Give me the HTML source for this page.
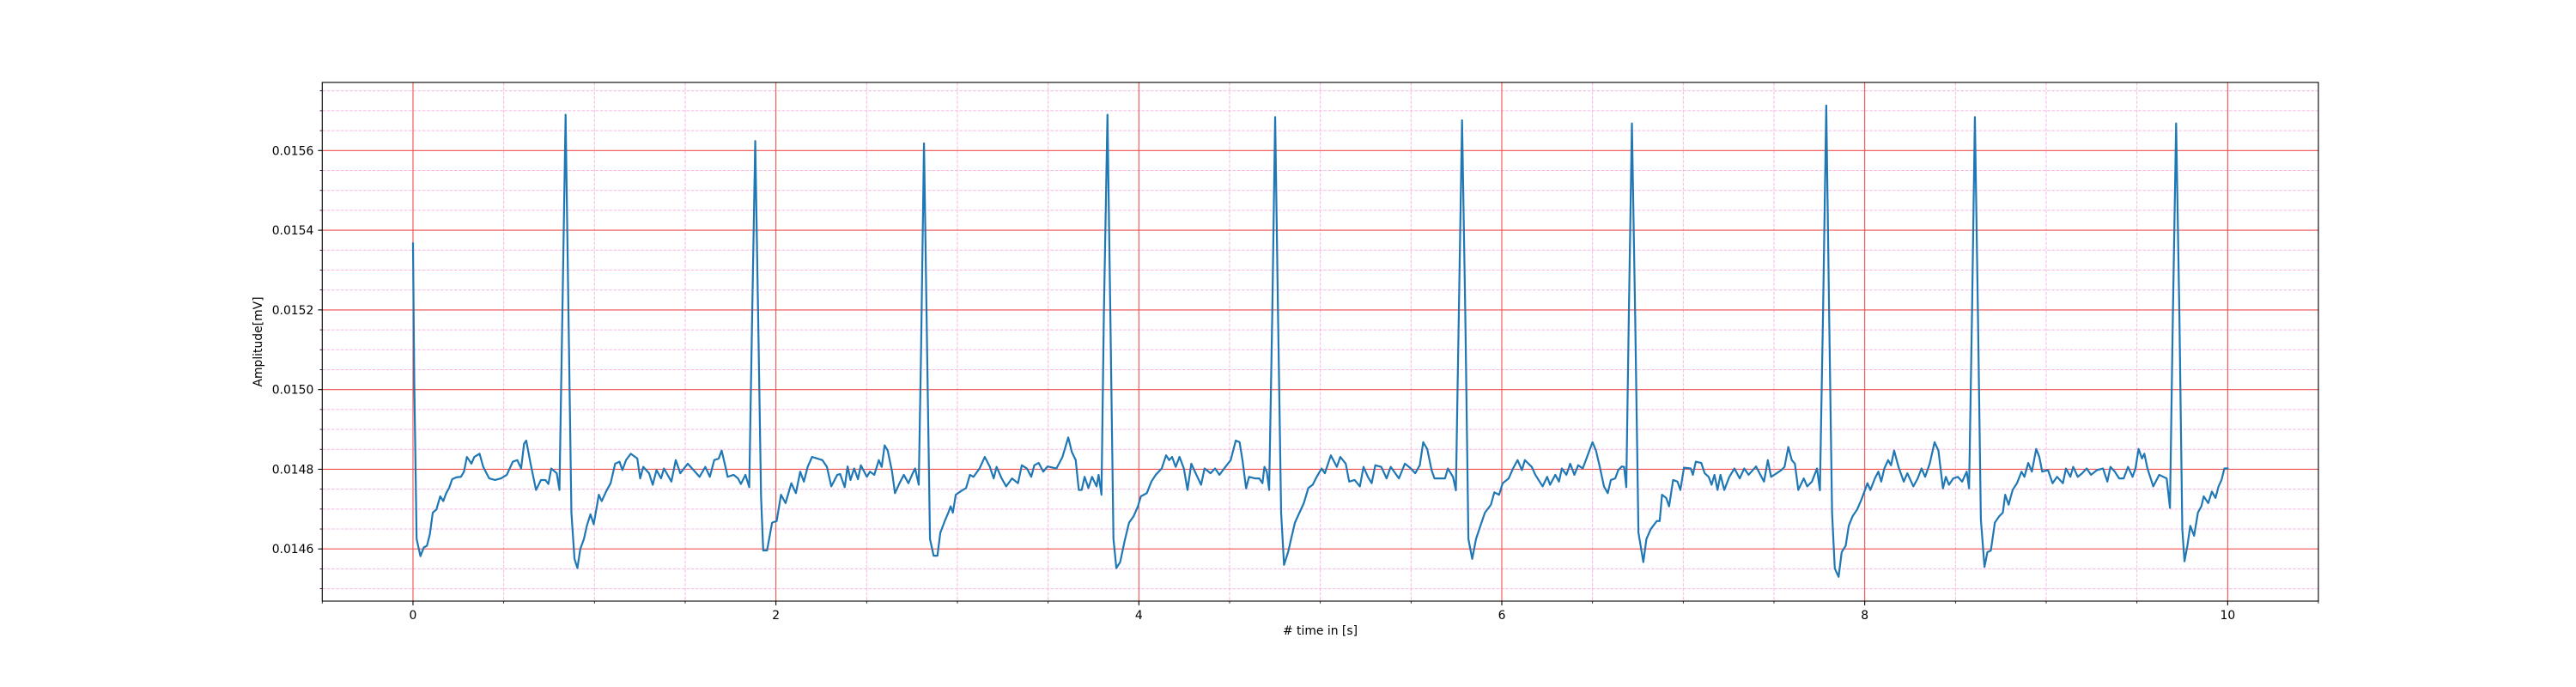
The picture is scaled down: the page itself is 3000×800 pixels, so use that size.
<!DOCTYPE html>
<html><head><meta charset="utf-8"><style>
html,body{margin:0;padding:0;background:#fff;}
svg{display:block;}
text{font-family:"DejaVu Sans","Liberation Sans",sans-serif;font-size:13.9px;fill:#000;}
</style></head><body>
<svg id="chart" width="3000" height="800" xmlns="http://www.w3.org/2000/svg">
<rect x="0" y="0" width="3000" height="800" fill="#fff"/>
<g id="grid"></g>
<g id="series"></g>
<g id="axes"></g>
<text x="1537.5" y="739" text-anchor="middle"># time in [s]</text>
<text transform="translate(305,398) rotate(-90)" text-anchor="middle">Amplitude[mV]</text>
</svg>
<script>
const xTicks = [0, 2, 4, 6, 8, 10];
const xTickLabels = ["0", "2", "4", "6", "8", "10"];
const yTicks = [0.0146, 0.0148, 0.0150, 0.0152, 0.0154, 0.0156];
const yTickLabels = ["0.0146", "0.0148", "0.0150", "0.0152", "0.0154", "0.0156"];
const time = [0,0.007,0.02,0.041,0.06,0.077,0.093,0.109,0.129,0.15,0.167,0.183,0.199,0.216,0.24,0.264,0.281,0.297,0.322,0.338,0.367,0.387,0.42,0.452,0.485,0.517,0.55,0.575,0.596,0.612,0.624,0.648,0.678,0.705,0.73,0.746,0.762,0.792,0.807,0.823,0.841,0.857,0.873,0.89,0.906,0.922,0.942,0.958,0.978,0.996,1.024,1.04,1.064,1.089,1.114,1.138,1.154,1.174,1.2,1.236,1.252,1.269,1.301,1.321,1.342,1.367,1.383,1.424,1.448,1.473,1.514,1.546,1.579,1.611,1.636,1.66,1.685,1.701,1.718,1.734,1.767,1.791,1.807,1.832,1.853,1.869,1.886,1.902,1.918,1.93,1.951,1.979,2.004,2.028,2.053,2.085,2.11,2.134,2.154,2.175,2.199,2.256,2.281,2.305,2.338,2.354,2.379,2.395,2.411,2.431,2.452,2.468,2.501,2.518,2.542,2.567,2.583,2.599,2.616,2.64,2.656,2.681,2.705,2.73,2.754,2.767,2.787,2.8,2.816,2.833,2.849,2.869,2.89,2.906,2.934,2.95,2.963,2.975,2.991,3.016,3.048,3.069,3.089,3.122,3.151,3.179,3.2,3.216,3.244,3.269,3.301,3.334,3.355,3.383,3.407,3.424,3.448,3.473,3.497,3.546,3.579,3.611,3.631,3.652,3.669,3.685,3.701,3.722,3.742,3.767,3.778,3.794,3.807,3.827,3.843,3.86,3.876,3.897,3.922,3.946,3.971,3.995,4.011,4.044,4.069,4.093,4.126,4.15,4.167,4.183,4.203,4.224,4.248,4.268,4.289,4.313,4.343,4.362,4.395,4.42,4.444,4.477,4.506,4.534,4.555,4.571,4.591,4.607,4.64,4.664,4.681,4.692,4.705,4.718,4.735,4.751,4.767,4.784,4.8,4.823,4.839,4.86,4.885,4.909,4.934,4.958,4.98,5.007,5.025,5.058,5.091,5.11,5.14,5.159,5.189,5.218,5.238,5.262,5.283,5.303,5.336,5.365,5.388,5.433,5.466,5.499,5.523,5.548,5.567,5.589,5.613,5.629,5.654,5.687,5.703,5.731,5.747,5.763,5.781,5.799,5.816,5.837,5.858,5.882,5.907,5.94,5.959,5.985,6.005,6.038,6.062,6.087,6.111,6.127,6.165,6.185,6.225,6.25,6.266,6.295,6.315,6.331,6.356,6.377,6.4,6.421,6.446,6.47,6.5,6.519,6.54,6.563,6.584,6.601,6.625,6.642,6.661,6.674,6.686,6.7,6.717,6.735,6.753,6.78,6.797,6.821,6.854,6.87,6.883,6.906,6.922,6.944,6.968,6.984,7.004,7.041,7.053,7.069,7.099,7.118,7.14,7.156,7.172,7.189,7.205,7.226,7.254,7.282,7.311,7.336,7.36,7.401,7.425,7.445,7.466,7.484,7.515,7.541,7.558,7.579,7.598,7.615,7.634,7.664,7.683,7.709,7.737,7.753,7.77,7.788,7.804,7.82,7.835,7.856,7.873,7.895,7.912,7.933,7.958,7.982,8.015,8.031,8.056,8.075,8.091,8.108,8.129,8.145,8.162,8.186,8.215,8.235,8.268,8.292,8.313,8.333,8.358,8.385,8.406,8.431,8.447,8.464,8.488,8.513,8.537,8.562,8.575,8.591,8.607,8.624,8.64,8.66,8.676,8.695,8.717,8.741,8.761,8.774,8.793,8.815,8.839,8.864,8.88,8.901,8.921,8.945,8.962,8.978,9.01,9.035,9.06,9.092,9.109,9.133,9.149,9.174,9.198,9.223,9.247,9.28,9.313,9.337,9.354,9.378,9.402,9.427,9.451,9.476,9.492,9.509,9.528,9.541,9.558,9.59,9.623,9.664,9.682,9.698,9.716,9.734,9.75,9.762,9.778,9.794,9.815,9.836,9.855,9.868,9.893,9.913,9.933,9.95,9.966,9.982,10.0];
const amp = [0.015367,0.01502,0.014625,0.014582,0.014604,0.014608,0.014637,0.014691,0.014699,0.014732,0.01472,0.01474,0.014753,0.014775,0.01478,0.014781,0.014794,0.014831,0.014814,0.014831,0.014839,0.014806,0.014777,0.014773,0.014777,0.014786,0.014819,0.014823,0.014802,0.014864,0.014872,0.014814,0.014748,0.014773,0.014773,0.014763,0.014802,0.01479,0.014748,0.015185,0.01569,0.015185,0.014691,0.014575,0.014552,0.0146,0.014625,0.014658,0.014687,0.014662,0.014736,0.01472,0.014744,0.014765,0.014814,0.014819,0.014798,0.014823,0.014839,0.014827,0.014777,0.014806,0.01479,0.014761,0.014798,0.014777,0.014802,0.014769,0.014823,0.01479,0.014814,0.014798,0.014781,0.014806,0.014781,0.014823,0.014827,0.014847,0.014814,0.014781,0.014786,0.014777,0.014763,0.014786,0.014755,0.015185,0.015624,0.015185,0.014732,0.014596,0.014596,0.014666,0.01467,0.014736,0.014715,0.014765,0.01474,0.014794,0.014769,0.014806,0.014831,0.014823,0.014806,0.014757,0.014786,0.014788,0.014755,0.014807,0.014773,0.014802,0.014775,0.01481,0.014781,0.014794,0.014786,0.014823,0.014806,0.01486,0.014847,0.014794,0.01474,0.014765,0.014786,0.014765,0.01479,0.014802,0.014761,0.015103,0.015618,0.015103,0.014625,0.014583,0.014583,0.014641,0.014674,0.014691,0.014707,0.014691,0.014736,0.014744,0.014753,0.014786,0.014781,0.014802,0.014831,0.014806,0.014777,0.014806,0.014777,0.014757,0.014777,0.014765,0.01481,0.014802,0.014781,0.01481,0.014816,0.014794,0.014807,0.014802,0.014831,0.01488,0.014843,0.014823,0.014748,0.014748,0.014781,0.014753,0.014781,0.014757,0.014786,0.014736,0.015185,0.01569,0.015185,0.014625,0.014552,0.014567,0.014621,0.014666,0.014682,0.014707,0.014732,0.01474,0.014769,0.014786,0.014802,0.014835,0.014823,0.014831,0.014806,0.014831,0.014802,0.014748,0.014814,0.01479,0.014761,0.014802,0.01479,0.014802,0.014786,0.014806,0.014823,0.014872,0.014868,0.014823,0.014752,0.014781,0.014777,0.014777,0.014765,0.014806,0.014794,0.014748,0.015185,0.015684,0.015185,0.014691,0.01456,0.014593,0.014625,0.014666,0.014691,0.014715,0.014753,0.014761,0.014781,0.014802,0.01479,0.014835,0.014806,0.014831,0.014814,0.014769,0.014773,0.014757,0.014806,0.014781,0.014765,0.01481,0.014806,0.014777,0.014806,0.014777,0.014814,0.014802,0.01479,0.01481,0.014868,0.014851,0.014798,0.014777,0.014777,0.014777,0.014802,0.014781,0.014747,0.015185,0.015676,0.015185,0.014625,0.014575,0.014625,0.014658,0.014691,0.014711,0.014742,0.014736,0.014765,0.014777,0.014802,0.014823,0.014798,0.014823,0.014806,0.014786,0.014757,0.014781,0.014761,0.014786,0.014769,0.014802,0.014786,0.014814,0.014786,0.01481,0.014802,0.014831,0.014868,0.014847,0.014806,0.014757,0.01474,0.014773,0.014777,0.014798,0.014807,0.014806,0.014755,0.015185,0.015668,0.015185,0.014641,0.014567,0.014625,0.01465,0.01467,0.01467,0.014736,0.014728,0.014707,0.014773,0.014769,0.014748,0.014804,0.014802,0.014786,0.014819,0.014816,0.01479,0.014781,0.014761,0.014786,0.014748,0.014786,0.014748,0.014781,0.014802,0.014777,0.014802,0.014786,0.014807,0.014786,0.014769,0.014823,0.014781,0.01479,0.014798,0.014806,0.014856,0.014823,0.014814,0.014748,0.014777,0.014757,0.014769,0.014802,0.014747,0.015185,0.015713,0.015185,0.014691,0.014551,0.01453,0.014592,0.014608,0.014658,0.014682,0.014699,0.014724,0.014765,0.014748,0.014777,0.014794,0.014769,0.014802,0.014823,0.01481,0.014847,0.014806,0.014769,0.01479,0.014757,0.014777,0.014802,0.014781,0.014814,0.014868,0.014847,0.014752,0.014781,0.014761,0.014777,0.014781,0.014769,0.014794,0.014752,0.015185,0.015684,0.015185,0.014674,0.014555,0.014592,0.014596,0.014666,0.014682,0.014691,0.014736,0.014711,0.014748,0.014765,0.014794,0.014781,0.014816,0.014794,0.014851,0.014831,0.014794,0.014798,0.014765,0.014781,0.014765,0.014802,0.014781,0.014806,0.014781,0.01479,0.014802,0.014786,0.014798,0.014802,0.014769,0.014806,0.014794,0.014777,0.014777,0.014806,0.014781,0.014802,0.014851,0.014827,0.014839,0.014802,0.014757,0.014786,0.014777,0.014703,0.015185,0.015668,0.015185,0.01465,0.014569,0.014608,0.014658,0.014633,0.014691,0.014707,0.014732,0.014715,0.014744,0.014728,0.014757,0.014773,0.014802,0.014802,0.0148];

const NS = "http://www.w3.org/2000/svg";
const L = 375.3, R = 2700, T = 96, B = 700;
const xMin = -0.5, xMax = 10.5, yMin = 0.014469, yMax = 0.015771;
const xs = v => L + (v - xMin) / (xMax - xMin) * (R - L);
const ys = v => B - (v - yMin) / (yMax - yMin) * (B - T);
function mk(tag, attrs, parent){ const e=document.createElementNS(NS,tag); for(const k in attrs) e.setAttribute(k,attrs[k]); parent.appendChild(e); return e; }
const grid=document.getElementById('grid'), axes=document.getElementById('axes'), series=document.getElementById('series');

// minor grid
for(let i=-1;i<=21;i++){ const v=i*0.5; if(v<xMin||v>xMax||i%4===0) continue;
  const ln=mk('line',{x1:xs(v),x2:xs(v),y1:T,y2:B,stroke:'#f7b8e4','stroke-width':1,'stroke-dasharray':'3.7,1.6'},grid);
  
  
  const tk=mk('line',{x1:xs(v),x2:xs(v),y1:B,y2:B+2.8,stroke:'#000','stroke-width':0.8},axes);
  
  
}
for(let i=289;i<=316;i++){ const v=i*0.00005; if(v<yMin||v>yMax||i%4===0) continue;
  const ln=mk('line',{x1:L,x2:R,y1:ys(v),y2:ys(v),stroke:'#f7b8e4','stroke-width':1,'stroke-dasharray':'3.7,1.6'},grid);
  
  
  const tk=mk('line',{x1:L-2.8,x2:L,y1:ys(v),y2:ys(v),stroke:'#000','stroke-width':0.8},axes);
  
  
}
// major grid + ticks
xTicks.forEach((v,i)=>{
  const ln=mk('line',{x1:xs(v),x2:xs(v),y1:T,y2:B,stroke:'#f05050','stroke-width':1.1},grid);
  
  
  const tk=mk('line',{x1:xs(v),x2:xs(v),y1:B,y2:B+4.9,stroke:'#000','stroke-width':1.1},axes);
  
  
  const tx=mk('text',{x:xs(v),y:B+21,'text-anchor':'middle'},axes);
  tx.textContent=xTickLabels[i];
  
  
});
yTicks.forEach((v,i)=>{
  const ln=mk('line',{x1:L,x2:R,y1:ys(v),y2:ys(v),stroke:'#f05050','stroke-width':1.1},grid);
  
  
  const tk=mk('line',{x1:L-4.9,x2:L,y1:ys(v),y2:ys(v),stroke:'#000','stroke-width':1.1},axes);
  
  
  const tx=mk('text',{x:L-10,y:ys(v)+5,'text-anchor':'end'},axes);
  tx.textContent=yTickLabels[i];
  
  
});
// series
let d='';
time.forEach((t,i)=>{ d+=(i?'L':'M')+xs(t).toFixed(2)+','+ys(amp[i]).toFixed(2); });
const p=mk('path',{d:d,fill:'none',stroke:'#1f77b4','stroke-width':2.2,'stroke-linejoin':'round','stroke-linecap':'square'},series);


// frame
const fr=mk('rect',{x:L,y:T,width:R-L,height:B-T,fill:'none',stroke:'#000','stroke-width':1.1},axes);


</script>
</body></html>
